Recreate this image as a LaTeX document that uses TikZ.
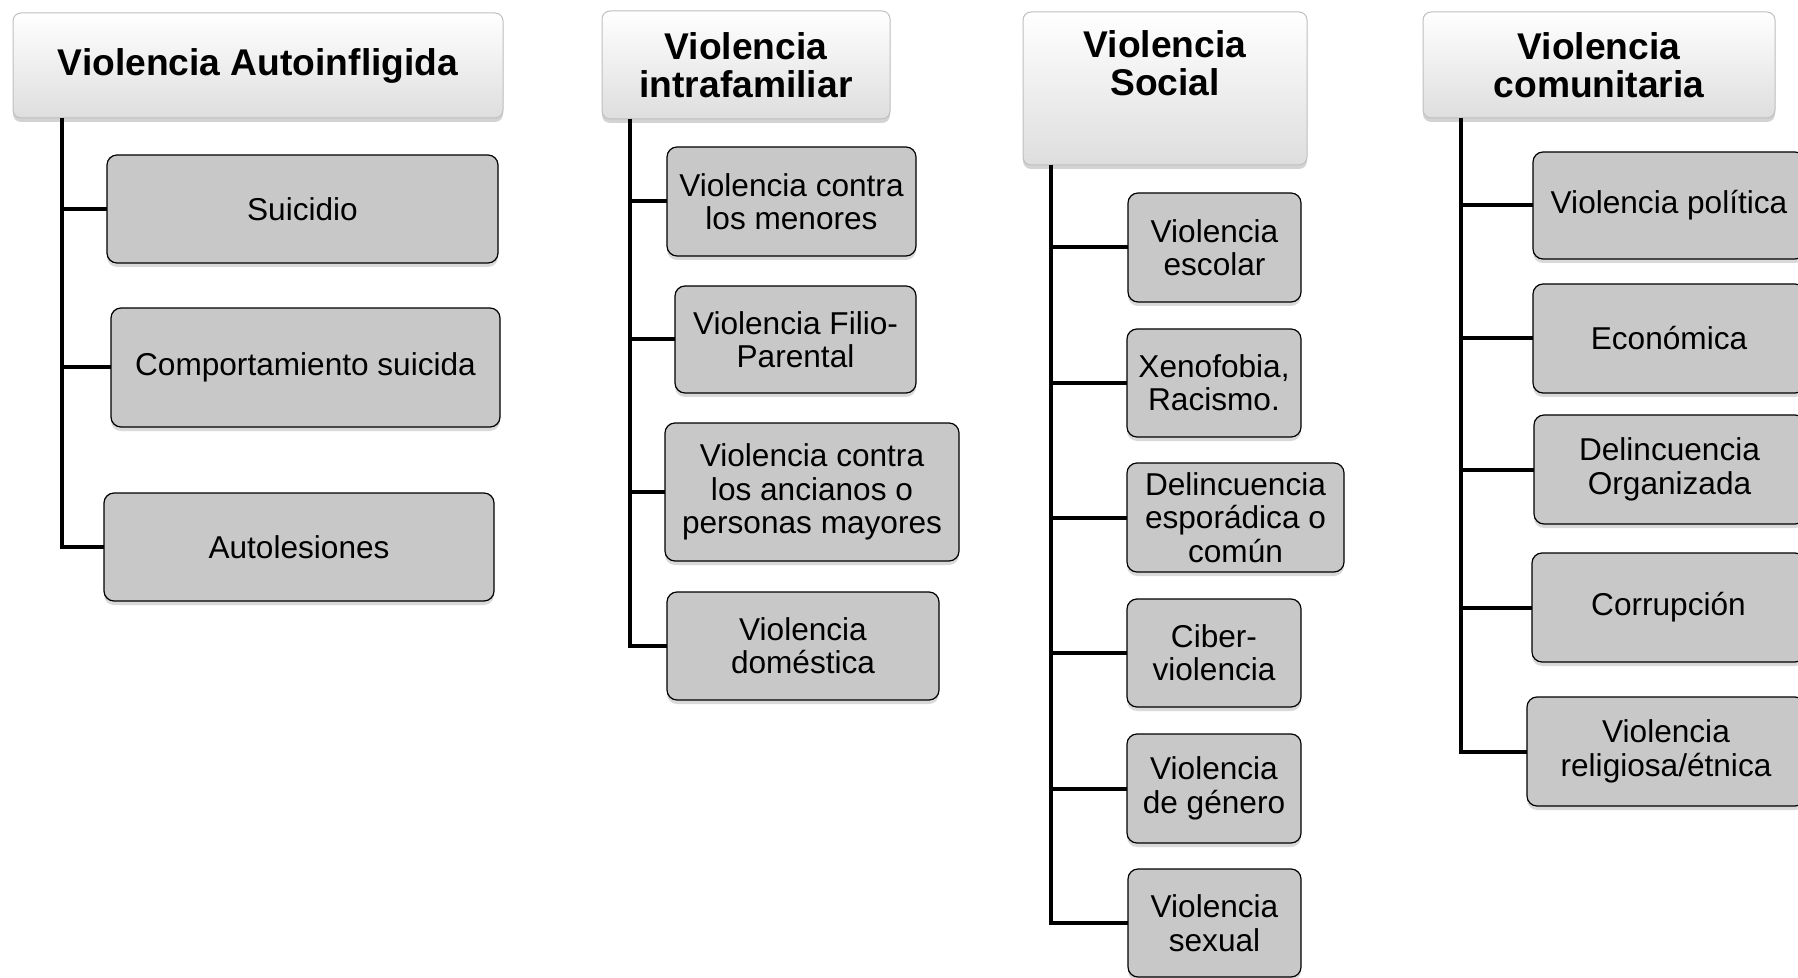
\documentclass[tikz,border=0pt]{standalone}
\usepackage{fontspec}
\setmainfont{Liberation Sans}
\usetikzlibrary{shadows}
\definecolor{childfill}{RGB}{200,200,200}
\tikzset{
 head/.style={rounded corners=4pt, draw=black!25, line width=0.5pt, top color=white, bottom color=black!13,
   drop shadow={opacity=0.35, shadow xshift=0pt, shadow yshift=-2pt},
   inner sep=0pt, outer sep=0pt, align=center, font=\fontsize{18.6}{19}\selectfont\bfseries},
 headtext/.style={inner sep=0pt, align=center, font=\fontsize{18.6}{19}\selectfont\bfseries},
 child/.style={rounded corners=5pt, draw=black, line width=0.6pt, fill=childfill,
   drop shadow={opacity=0.3, shadow xshift=0pt, shadow yshift=-2pt},
   inner sep=0pt, outer sep=0pt, align=center, font=\fontsize{15.8}{16.7}\selectfont},
 conn/.style={line width=2pt, draw=black}
}
\begin{document}
\begin{tikzpicture}[x=0.5pt,y=-0.5pt]
\clip (0,0) rectangle (1798,978);
% headers
\node[head, minimum width=245pt, minimum height=52.5pt] (h1) at (258,65.5) {Violencia Autoinfligida};
\node[head, minimum width=144pt, minimum height=54pt] (h2) at (746,65) {Violencia\\intrafamiliar};
\node[head, minimum width=142pt, minimum height=76.5pt] (h3) at (1165,88.5) {};
\node[headtext] (h3t) at (1165,63) {Violencia\\Social};
\node[head, minimum width=176pt, minimum height=53pt] (h4) at (1599,65) {Violencia\\comunitaria};
% trunk tops
\coordinate (t1) at (62,118);
\coordinate (t2) at (630,119);
\coordinate (t3) at (1051,165);
\coordinate (t4) at (1461,118);
% column 1
\node[child, minimum width=195.5pt, minimum height=54pt] (c11) at (302.5,209) {Suicidio};
\node[child, minimum width=194.5pt, minimum height=59.5pt] (c12) at (305.5,367.5) {Comportamiento suicida};
\node[child, minimum width=195pt, minimum height=54pt] (c13) at (299,547) {Autolesiones};
% column 2
\node[child, minimum width=124.5pt, minimum height=54.5pt] (c21) at (791.5,201.5) {Violencia contra\\los menores};
\node[child, minimum width=120.5pt, minimum height=53.5pt] (c22) at (795.5,339.5) {Violencia Filio-\\Parental};
\node[child, minimum width=147pt, minimum height=69pt] (c23) at (812,492) {Violencia contra\\los ancianos o\\personas mayores};
\node[child, minimum width=136pt, minimum height=54pt] (c24) at (803,646) {Violencia\\doméstica};
% column 3
\node[child, minimum width=86.5pt, minimum height=54.5pt] (c31) at (1214.5,247.5) {Violencia\\escolar};
\node[child, minimum width=87pt, minimum height=54pt] (c32) at (1214,383) {Xenofobia,\\Racismo.};
\node[child, minimum width=108.5pt, minimum height=54.5pt] (c33) at (1235.5,517.5) {Delincuencia\\esporádica o\\común};
\node[child, minimum width=87pt, minimum height=54pt] (c34) at (1214,653) {Ciber-\\violencia};
\node[child, minimum width=87pt, minimum height=54.5pt] (c35) at (1214,788.5) {Violencia\\de género};
\node[child, minimum width=86.5pt, minimum height=54pt] (c36) at (1214.5,923) {Violencia\\sexual};
% column 4
\node[child, minimum width=136pt, minimum height=53.5pt] (c41) at (1669,205.5) {Violencia política};
\node[child, minimum width=136pt, minimum height=54.5pt] (c42) at (1669,338.5) {Económica};
\node[child, minimum width=135.5pt, minimum height=54.5pt] (c43) at (1669.5,469.5) {Delincuencia\\Organizada};
\node[child, minimum width=136.5pt, minimum height=54.5pt] (c44) at (1668.5,607.5) {Corrupción};
\node[child, minimum width=139pt, minimum height=54.5pt] (c45) at (1666,751.5) {Violencia\\religiosa/étnica};
% connectors
\foreach \c in {c11,c12,c13} \draw[conn] (t1) |- (\c.west);
\foreach \c in {c21,c22,c23,c24} \draw[conn] (t2) |- (\c.west);
\foreach \c in {c31,c32,c33,c34,c35,c36} \draw[conn] (t3) |- (\c.west);
\foreach \c in {c41,c42,c43,c44,c45} \draw[conn] (t4) |- (\c.west);
\end{tikzpicture}
\end{document}
